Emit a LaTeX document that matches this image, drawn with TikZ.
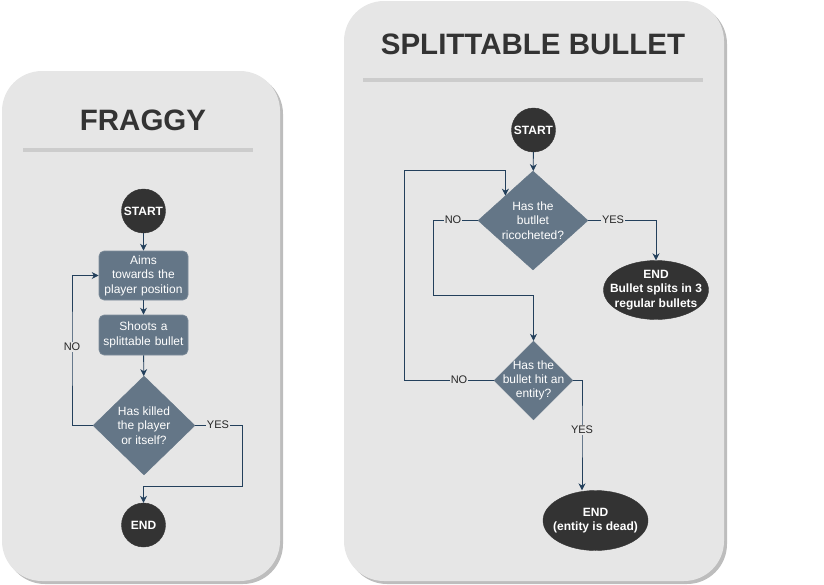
\documentclass[tikz,border=0pt]{standalone}
\usepackage{fontspec}
\setmainfont{Liberation Sans}
\usetikzlibrary{shapes.geometric,arrows.meta}
\definecolor{panel}{HTML}{E6E6E6}
\definecolor{panelshadow}{HTML}{BDBDBD}
\definecolor{sepline}{HTML}{CCCCCC}
\definecolor{slate}{HTML}{647687}
\definecolor{slateedge}{HTML}{7E8D9B}
\definecolor{dark}{HTML}{333333}
\definecolor{wire}{HTML}{23405C}
\tikzset{
  panelbox/.style={fill=panel, draw=none, rounded corners=40pt},
  shadowbox/.style={fill=panelshadow, draw=none, rounded corners=40pt},
  titletext/.style={font=\fontsize{29.5}{34}\selectfont\bfseries, text=dark},
  termcircle/.style={circle, fill=dark, draw=dark, minimum size=44pt, inner sep=0pt, text=white, font=\fontsize{12}{14.4}\selectfont\bfseries},
  termellipse/.style={ellipse, fill=dark, draw=dark, minimum width=105pt, minimum height=59pt, inner sep=0pt},
  etext/.style={text=white, align=center, inner sep=0pt, font=\fontsize{12}{14.4}\selectfont\bfseries},
  procbox/.style={rectangle, rounded corners=5pt, fill=slate, draw=slateedge, line width=0.6pt, minimum width=89pt, text width=86pt, align=center, inner sep=0pt, text=white, font=\fontsize{12}{14.4}\selectfont},
  decision/.style={diamond, fill=slate, draw=slate, inner sep=0pt, aspect=1},
  dtext/.style={text=white, align=center, font=\fontsize{12}{14.3}\selectfont, inner sep=0pt},
  wireline/.style={draw=wire, line width=0.8pt},
  arrowline/.style={wireline, -{Stealth[length=7pt,width=7pt]}},
  elabel/.style={fill=panel, inner sep=1pt, text=black!85, font=\fontsize{11}{13}\selectfont},
}
\begin{document}
\begin{tikzpicture}[x=1pt,y=-1pt]
\useasboundingbox (0,0) rectangle (824,584);
% panels
\fill[shadowbox] (5,74) rectangle (283,584);
\fill[panelbox] (2,71) rectangle (280,581);
\fill[shadowbox] (347,4) rectangle (727,584);
\fill[panelbox] (344,1) rectangle (724,581);
% titles
\node[titletext] (t1) at (143,120) {FRAGGY};
\node[titletext] (t2) at (533,44) {SPLITTABLE BULLET};
\draw[sepline, line width=4pt] (23,150) -- (253,150);
\draw[sepline, line width=4pt] (363,80) -- (703,80);

% ---- FRAGGY ----
\node[termcircle] (s1) at (143.5,211) {START};
\node[procbox, minimum height=49pt] (a1) at (143.5,275.5) {Aims\\towards the\\player position};
\node[procbox, minimum height=40pt] (b1) at (143.5,335) {Shoots a\\splittable bullet};
\node[decision, minimum width=102pt, minimum height=99pt] (d1) at (144,425.5) {};
\node[dtext] (d1t) at (d1) {Has killed\\the player\\or itself?};
\node[termcircle] (e1) at (143.5,525) {END};
\coordinate (nol) at (72,347);
\coordinate (yesr) at (242,486);

\draw[arrowline] (s1) -- (a1);
\draw[arrowline] (a1) -- (b1);
\draw[arrowline] (b1) -- (d1);
\draw[arrowline] (d1.west) -| (nol) |- (a1.west);
\draw[arrowline] (d1.east) -| (yesr) -| (e1.north);
\node[elabel] (no1) at (nol) {NO};
\node[elabel] (yes1) at (218,425) {YES};

% ---- SPLITTABLE BULLET ----
\node[termcircle] (s2) at (533.5,130) {START};
\node[decision, minimum width=110pt, minimum height=99pt] (d2) at (533,220.5) {};
\node[dtext] (d2t) at (d2) {Has the\\butllet\\ricocheted?};
\node[termellipse] (e2) at (656,290) {};
\node[etext] (e2t) at (e2) {END\\Bullet splits in 3\\regular bullets};
\node[decision, minimum width=79pt, minimum height=79pt] (d3) at (533.5,380.5) {};
\node[dtext] (d3t) at (d3) {Has the\\bullet hit an\\entity?};
\node[termellipse, minimum height=60pt] (e3) at (595.5,520.5) {};
\node[etext] (e3t) at (e3) {END\\(entity is dead)};
\coordinate (c1) at (433,295);
\coordinate (c2) at (404,170);
\coordinate (c4) at (582,430);

\draw[arrowline] (s2) -- (d2);
\draw[arrowline] (d2.west) -| (c1) -| (d3.north);
\draw[arrowline] (d2.east) -| (e2.north);
\draw[arrowline] (d3.west) -| (c2) -| (d2.north west);
\draw[arrowline] (d3.east) -| (c4) -- (c4 |- e3.north);
\node[elabel] (no2) at (453,220) {NO};
\node[elabel] (yes2) at (613,220) {YES};
\node[elabel] (no3) at (459,380) {NO};
\node[elabel] (yes3) at (c4) {YES};
\end{tikzpicture}
\end{document}
